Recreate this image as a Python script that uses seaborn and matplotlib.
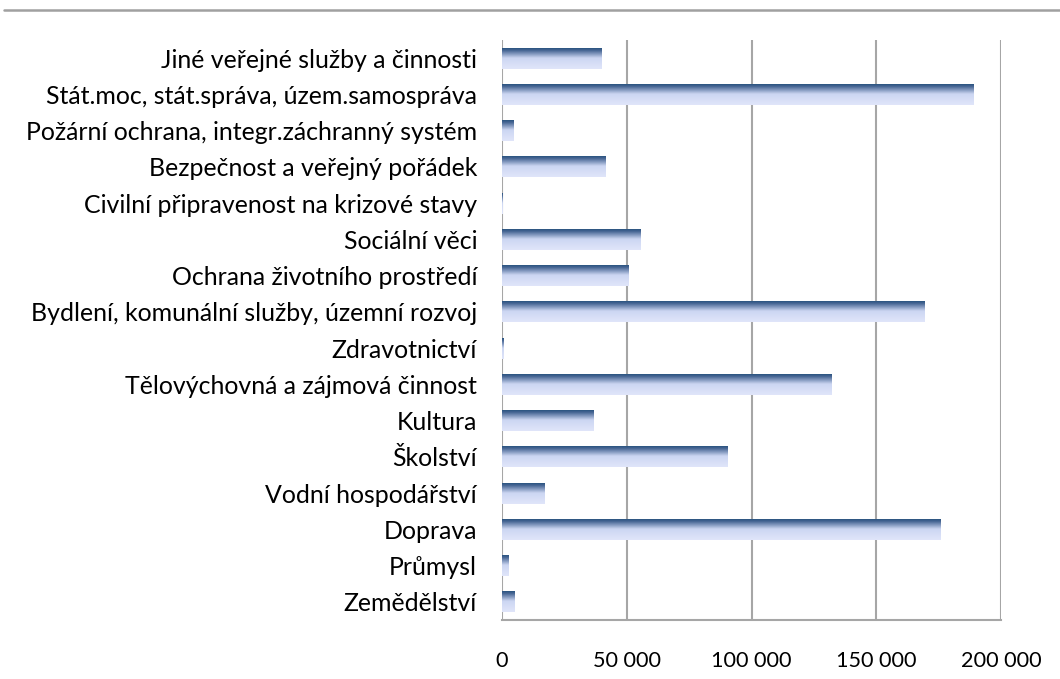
import numpy as np
import pandas as pd
import matplotlib
matplotlib.use("Agg")
import matplotlib.pyplot as plt
import seaborn as sns
from matplotlib.colors import LinearSegmentedColormap
from matplotlib.ticker import FuncFormatter
from matplotlib.lines import Line2D

categories = [
    "Jiné veřejné služby a činnosti",
    "Stát.moc, stát.správa, územ.samospráva",
    "Požární ochrana, integr.záchranný systém",
    "Bezpečnost a veřejný pořádek",
    "Civilní připravenost na krizové stavy",
    "Sociální věci",
    "Ochrana životního prostředí",
    "Bydlení, komunální služby, územní rozvoj",
    "Zdravotnictví",
    "Tělovýchovná a zájmová činnost",
    "Kultura",
    "Školství",
    "Vodní hospodářství",
    "Doprava",
    "Průmysl",
    "Zemědělství",
]
values = [40000, 189000, 4500, 41500, 300, 55500, 50800, 169200,
          800, 132000, 36500, 90500, 17000, 175700, 2500, 5000]
xticks = [0, 50000, 100000, 150000, 200000]

df = pd.DataFrame({"cat": categories, "val": values})

sns.set_theme(style="white")
plt.rcParams["font.family"] = ["Lato", "DejaVu Sans"]

fig = plt.figure(figsize=(10.6, 6.79), dpi=100)
ax = fig.add_axes([502/1060, 1-620/679, (1001-502)/1060, (620-40)/679])

sns.barplot(data=df, x="val", y="cat", orient="h", ax=ax, width=0.58,
            color="#1f4e79", saturation=1, zorder=3)

ax.set_xlim(0, 200000)
ax.set_ylim(len(categories) - 0.5, -0.5)
ax.set_xticks(xticks)
ax.xaxis.set_major_formatter(FuncFormatter(lambda v, p: f"{int(v):,}".replace(",", " ")))
ax.set_xlabel("")
ax.set_ylabel("")

grid_c = "#a6a6a6"
ax.grid(axis="x", color=grid_c, linewidth=1.5, zorder=0)
ax.grid(axis="y", visible=False)
for s in ["top", "right"]:
    ax.spines[s].set_visible(False)
ax.spines["left"].set_visible(False)
ax.spines["bottom"].set_color(grid_c)
ax.spines["bottom"].set_linewidth(1.5)

ax.tick_params(axis="y", length=0, pad=18, labelsize=17.9, labelcolor="black")
ax.tick_params(axis="x", length=0, pad=22, labelsize=15.6, labelcolor="black")

# gradient fill for bars
cmap = LinearSegmentedColormap.from_list(
    "grad",
    [(0.0, (0.12, 0.30, 0.47)), (0.15, (0.28, 0.40, 0.58)),
     (0.5, (0.80, 0.84, 0.95)), (1.0, (0.88, 0.90, 0.98))])
grad = np.linspace(0, 1, 100).reshape(-1, 1)
for p in list(ax.patches):
    x0, y0 = p.get_x(), p.get_y()
    w, h = p.get_width(), p.get_height()
    if w <= 0:
        continue
    top = min(y0, y0 + h)
    bot = max(y0, y0 + h)
    im = ax.imshow(grad, cmap=cmap, aspect="auto",
                   extent=(x0, x0 + w, bot, top), origin="upper", zorder=3)
    im.set_clip_path(p)
    p.set_facecolor("none")
    p.set_edgecolor("none")

ax.set_xlim(0, 200000)
ax.set_ylim(len(categories) - 0.5, -0.5)

fig.add_artist(Line2D([4/1060, 1.0], [1-10/679, 1-10/679],
                      transform=fig.transFigure, color="#a0a0a0", linewidth=1.8))

fig.savefig("out.png", dpi=100, facecolor="white")
